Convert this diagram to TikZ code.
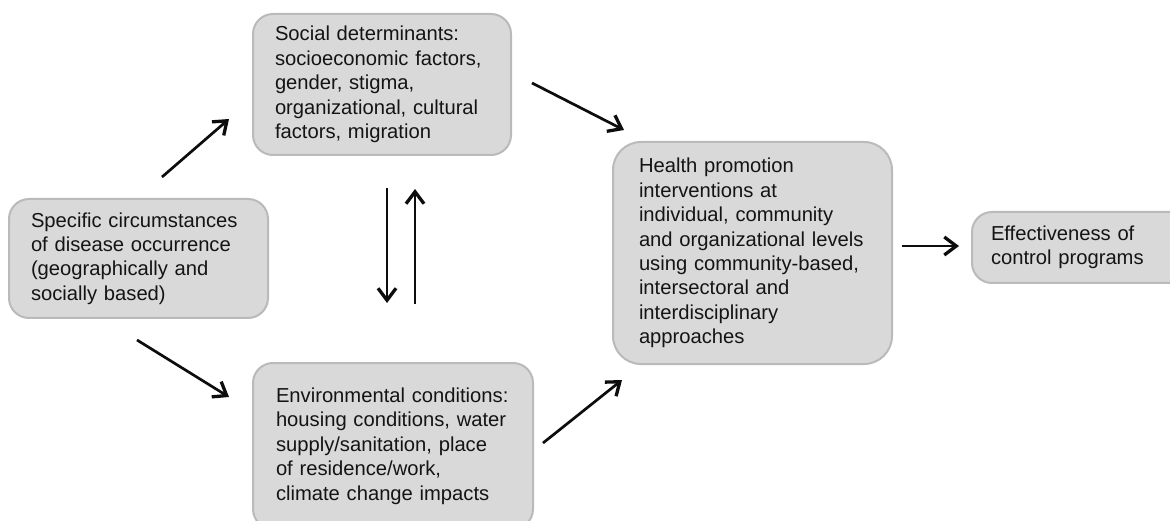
\documentclass[tikz,border=0pt]{standalone}
\usepackage{fontspec}
\setmainfont{Liberation Sans}
\usetikzlibrary{arrows.meta}
\definecolor{boxfill}{HTML}{D9D9D9}
\definecolor{boxline}{HTML}{BABABA}
\definecolor{txt}{HTML}{141414}
\hfuzz=50pt
\tikzset{
  box/.style={draw=boxline, fill=boxfill, line width=2pt, rounded corners=20pt,
    anchor=north west, align=left, text=txt, inner ysep=0pt,
    font=\fontsize{20.2}{24.4}\selectfont},
  arr/.style={line width=2.7pt, -{Straight Barb[length=12pt,width=18pt,line width=0.6pt 1]}, black!95}
}
\begin{document}
\begin{tikzpicture}[x=1pt,y=-1pt]
\useasboundingbox (0,0) rectangle (1170,521);
\clip (0,0) rectangle (1170,521);
\fill[white] (0,0) rectangle (1170,521);

\node[box, inner xsep=22pt, text width=215pt, minimum width=259pt, minimum height=119pt] (spec) at (8,198)
  {\mbox{Specific circumstances}\\\mbox{of disease occurrence}\\\mbox{(geographically and}\\\mbox{socially based)}};
\node[box, inner xsep=22pt, text width=214pt, minimum width=258pt, minimum height=141pt] (soc) at (252,13)
  {\mbox{Social determinants:}\\\mbox{socioeconomic factors,}\\\mbox{gender, stigma,}\\\mbox{organizational, cultural}\\\mbox{factors, migration}};
\node[box, inner xsep=23pt, text width=234pt, minimum width=280pt, minimum height=166pt] (env) at (252,362)
  {\mbox{Environmental conditions:}\\\mbox{housing conditions, water}\\\mbox{supply/sanitation, place}\\\mbox{of residence/work,}\\\mbox{climate change impacts}};
\node[box, rounded corners=28pt, inner xsep=26pt, text width=227pt, minimum width=279pt, minimum height=222pt] (hp) at (612,141)
  {\mbox{Health promotion}\\\mbox{interventions at}\\\mbox{individual, community}\\\mbox{and organizational levels}\\\mbox{using community-based,}\\\mbox{intersectoral and}\\\mbox{interdisciplinary}\\\mbox{approaches}};
\node[box, inner xsep=19pt, text width=182pt, minimum width=220pt, minimum height=71pt] (eff) at (971,211)
  {\mbox{Effectiveness of}\\\mbox{control programs}};

\coordinate (a1s) at (162,177); \coordinate (a1e) at (229,119);
\coordinate (a2s) at (532,83);  \coordinate (a2e) at (624,130);
\coordinate (a3s) at (387,188); \coordinate (a3e) at (387,303);
\coordinate (a4s) at (415,304); \coordinate (a4e) at (415,189);
\coordinate (a5s) at (137,340); \coordinate (a5e) at (229,397);
\coordinate (a6s) at (543,443); \coordinate (a6e) at (622,380);
\coordinate (a7s) at (902,246); \coordinate (a7e) at (959,246);

\draw[arr] (a1s) -- (a1e);
\draw[arr] (a2s) -- (a2e);
\draw[arr] (a3s) -- (a3e);
\draw[arr] (a4s) -- (a4e);
\draw[arr] (a5s) -- (a5e);
\draw[arr] (a6s) -- (a6e);
\draw[arr] (a7s) -- (a7e);
\end{tikzpicture}
\end{document}
